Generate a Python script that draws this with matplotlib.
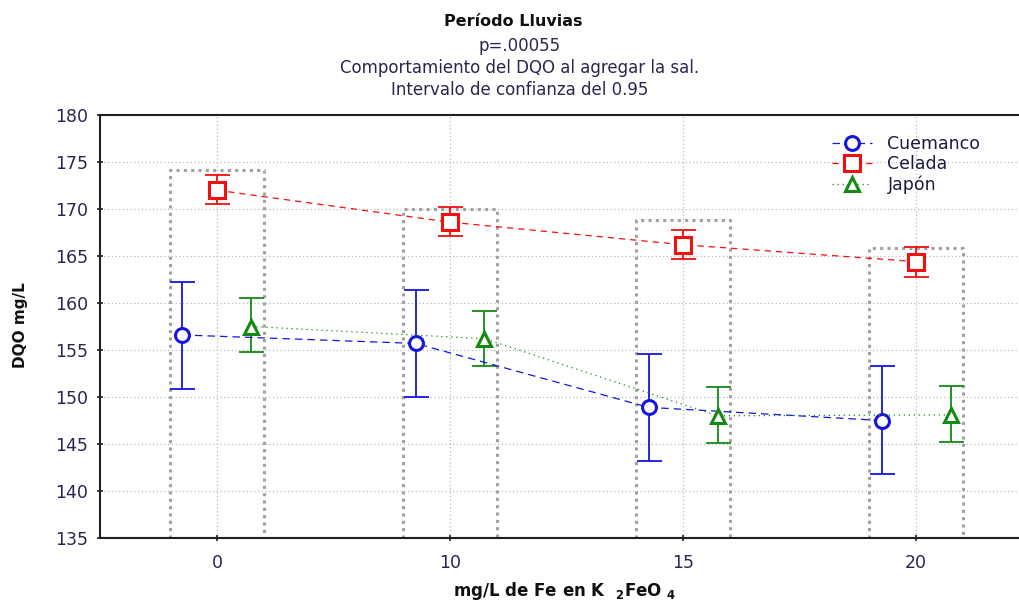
import matplotlib
matplotlib.use("Agg")
import matplotlib.pyplot as plt
import numpy as np

plt.rcParams['font.family'] = ['DejaVu Sans']

# Categories: dose of Fe (mg/L) added as K2FeO4
doses = ["0", "10", "15", "20"]
series = ["Cuemanco", "Celada", "Japón"]

# Mean DQO (mg/L) and 95% confidence limits per site
cuemanco_mean = [156.6, 155.7, 148.9, 147.5]
cuemanco_low = [150.9, 150.0, 143.2, 141.8]
cuemanco_high = [162.2, 161.4, 154.6, 153.3]

celada_mean = [172.0, 168.6, 166.2, 164.4]
celada_low = [170.5, 167.1, 164.7, 162.8]
celada_high = [173.6, 170.2, 167.8, 166.0]

japon_mean = [157.5, 156.2, 148.0, 148.1]
japon_low = [154.8, 153.3, 145.1, 145.2]
japon_high = [160.5, 159.2, 151.1, 151.2]

# Height of the dotted group frames
frame_top = [174.1, 170.0, 168.8, 165.9]

title_main = "Período Lluvias"
title_lines = ["p=.00055",
               "Comportamiento del DQO al agregar la sal.",
               "Intervalo de confianza del 0.95"]
ylabel = "DQO mg/L"
xlabel = "mg/L de Fe en K  $_{\\mathbf{2}}$FeO $_{\\mathbf{4}}$"

text_color = "#2e2450"

W, H = 1020, 600
fig = plt.figure(figsize=(W / 100, H / 100), dpi=100)
ax = fig.add_axes([100 / W, 1 - 538 / H, 920 / W, (538 - 115) / H])

x = np.arange(len(doses))
offset = 0.148
half_frame = 0.2

styles = [
    dict(mean=cuemanco_mean, low=cuemanco_low, high=cuemanco_high,
         dx=-offset, color="#1515e0", marker="o", ls=(0, (6, 4)), ms=10),
    dict(mean=celada_mean, low=celada_low, high=celada_high,
         dx=0.0, color="#f01010", marker="s", ls=(0, (5, 4)), ms=11),
    dict(mean=japon_mean, low=japon_low, high=japon_high,
         dx=offset, color="#148a14", marker="^", ls=(0, (1, 3)), ms=10.5),
]

# Dotted frames around each dose group
for xi, top in zip(x, frame_top):
    ax.plot([xi - half_frame, xi - half_frame, xi + half_frame, xi + half_frame],
            [135, top, top, 135], color="#a0a0a0", lw=2.2,
            ls=(0, (1, 1.4)), zorder=2, solid_capstyle="butt",
            dash_capstyle="butt", clip_on=False)

handles = []
for name, st in zip(series, styles):
    xs = x + st["dx"]
    mean = np.array(st["mean"])
    yerr = [mean - np.array(st["low"]), np.array(st["high"]) - mean]
    ax.errorbar(xs, mean, yerr=yerr, fmt="none", ecolor=st["color"],
                elinewidth=1.3, capsize=9, capthick=1.3, zorder=3)
    line, = ax.plot(xs, mean, color=st["color"], lw=0.9, ls=st["ls"],
                    marker=st["marker"], ms=st["ms"], mfc="white",
                    mec=st["color"], mew=2.2, zorder=4, label=name)
    handles.append(line)

ax.set_xlim(-0.502, 3.446)
ax.set_ylim(135, 180)
ax.set_yticks(np.arange(135, 181, 5))
ax.set_xticks(x)
ax.set_xticklabels(doses)
ax.grid(True, color="#b8b8b8", lw=0.9, ls=(0, (1, 2)), zorder=1)
ax.set_axisbelow(True)

for side in ["left", "top", "bottom"]:
    ax.spines[side].set_linewidth(1.5)
    ax.spines[side].set_color("#202020")
ax.spines["right"].set_visible(False)

ax.tick_params(axis="both", direction="inout", length=5, width=1.2,
               colors="#202020", labelsize=12.5, labelcolor=text_color)
ax.tick_params(axis="y", pad=6)
ax.tick_params(axis="x", pad=9)

leg = ax.legend(handles=handles, loc="upper left",
                bbox_to_anchor=(725 / 920, 1 - 13 / 423), frameon=False,
                fontsize=12.5, handlelength=2.3, handletextpad=0.9,
                labelspacing=0.12, borderaxespad=0)
for t in leg.get_texts():
    t.set_color("#1a1a40")

fig.text(513 / W, 1 - 26 / H, title_main, ha="center", va="baseline",
         fontsize=11.5, fontweight="bold", color="#101010")
for i, line_text in enumerate(title_lines):
    fig.text(520 / W, 1 - (51 + 22 * i) / H, line_text, ha="center",
             va="baseline", fontsize=12, color=text_color)

fig.text(21 / W, 1 - 325 / H, ylabel, rotation=90, ha="center", va="center",
         fontsize=11, fontweight="bold", color="#101010")
fig.text(565 / W, 1 - 591 / H, xlabel, ha="center", va="center",
         fontsize=12, fontweight="bold", color="#101010")

fig.savefig("out.png", dpi=100, facecolor="white")
